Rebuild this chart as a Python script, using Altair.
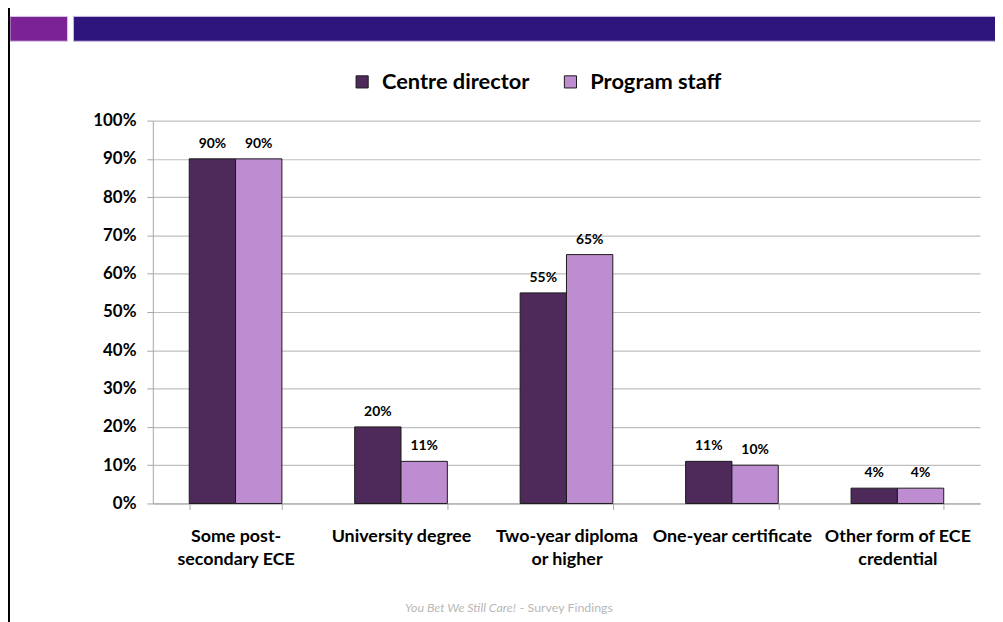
import altair as alt
import pandas as pd

categories = ["Some post-secondary ECE", "University degree", "Two-year diploma or higher",
              "One-year certificate", "Other form of ECE credential"]
label_lines = [["Some post-", "secondary ECE"], ["University degree"], ["Two-year diploma", "or higher"],
               ["One-year certificate"], ["Other form of ECE", "credential"]]
series = ["Centre director", "Program staff"]
director = [90, 20, 55, 11, 4]
staff = [90, 11, 65, 10, 4]
y_ticks = [0, 10, 20, 30, 40, 50, 60, 70, 80, 90, 100]
colors = ["#4E2A5B", "#BE8CD0"]
footer_italic = "You Bet We Still Care!"
footer_rest = "- Survey Findings"

rows = []
for c, d, s in zip(categories, director, staff):
    rows.append({"category": c, "series": series[0], "value": d})
    rows.append({"category": c, "series": series[1], "value": s})
df = pd.DataFrame(rows)

expr = "datum.label"
for c, lines in reversed(list(zip(categories, label_lines))):
    arr = "[" + ",".join("'" + l + "'" for l in lines) + "]"
    expr = f"datum.label == '{c}' ? {arr} : ({expr})"

FONT = "Lato"
W, H = 834, 386

x = alt.X("category:N", sort=categories, title=None,
          scale=alt.Scale(paddingInner=0.44, paddingOuter=0.22),
          axis=alt.Axis(labelExpr=expr, labelAngle=0, labelFont=FONT, labelFontSize=18,
                        labelFontWeight="bold", labelColor="#000000", labelPadding=18,
                        labelLineHeight=24, tickBand="extent", tickSize=6, tickColor="#A6A6A6",
                        domainColor="#A6A6A6", grid=False, labelBaseline="top"))
y = alt.Y("value:Q", title=None,
          scale=alt.Scale(domain=[0, 100], nice=False),
          axis=alt.Axis(values=y_ticks, labelExpr="datum.value + '%'", labelFont=FONT,
                        labelFontSize=17, labelFontWeight="bold", labelColor="#000000",
                        labelPadding=11, tickSize=6, tickColor="#A6A6A6", domainColor="#A6A6A6",
                        gridColor="#BFBFBF", gridWidth=1.2, labelOverlap=False))

base = alt.Chart(df)
bars = base.mark_bar(stroke="#1A1A1A", strokeWidth=1).encode(
    x=x, y=y,
    xOffset=alt.XOffset("series:N", sort=series, scale=alt.Scale(paddingInner=0, paddingOuter=0)),
    color=alt.Color("series:N", sort=series, scale=alt.Scale(domain=series, range=colors),
                    legend=alt.Legend(title=None, orient="none", legendX=200, legendY=-50,
                                      direction="horizontal", symbolType="square", symbolSize=150,
                                      symbolStrokeColor="#1A1A1A", symbolStrokeWidth=1,
                                      labelFont=FONT, labelFontSize=22, labelFontWeight="bold",
                                      labelColor="#000000", columnPadding=30, labelOffset=9,
                                      symbolOpacity=1)),
)
labels = base.mark_text(dy=-8, font=FONT, fontSize=14, fontWeight="bold", color="#000000",
                        baseline="bottom").transform_calculate(
    lbl="datum.value + '%'"
).encode(
    x=x, y=y,
    xOffset=alt.XOffset("series:N", sort=series),
    text="lbl:N",
)

dummy = alt.Chart(pd.DataFrame({"a": [0]}))
hdr1 = dummy.mark_rect(color="#7B2394", stroke="#D9C6E6", strokeWidth=1).encode(
    x=alt.value(-144), x2=alt.value(-86), y=alt.value(-105), y2=alt.value(-80))
hdr2 = dummy.mark_rect(color="#2E157B", stroke="#C9B8E0", strokeWidth=1).encode(
    x=alt.value(-80), x2=alt.value(860), y=alt.value(-105), y2=alt.value(-80))
vline = dummy.mark_rule(color="#000000", strokeWidth=2).encode(
    x=alt.value(-145), y=alt.value(-120), y2=alt.value(H + 120))
foot1 = dummy.mark_text(font=FONT, fontSize=12.5, fontStyle="italic", color="#B8B8B8",
                        align="right", baseline="middle").encode(
    x=alt.value(366), y=alt.value(491), text=alt.value(footer_italic))
foot2 = dummy.mark_text(font=FONT, fontSize=12.5, color="#B8B8B8",
                        align="left", baseline="middle").encode(
    x=alt.value(370), y=alt.value(491), text=alt.value(footer_rest))

chart = alt.layer(bars, labels, hdr1, hdr2, vline, foot1, foot2).properties(
    width=W, height=H,
    autosize=alt.AutoSizeParams(type="none"),
    padding={"left": 146, "top": 111, "right": 15, "bottom": 117},
).configure_view(stroke=None)

chart.save("out.html", embed_options={"renderer": "svg", "actions": False})
